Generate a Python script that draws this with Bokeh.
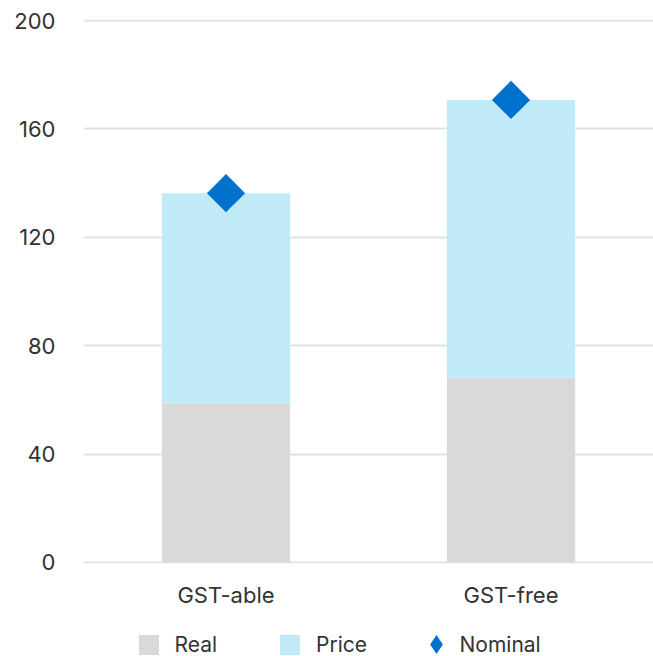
from bokeh.plotting import figure
from bokeh.layouts import column
from bokeh.models import ColumnDataSource, FactorRange, Range1d, Legend, LegendItem, FixedTicker
from bokeh.embed import file_html
from bokeh.resources import INLINE

categories = ["GST-able", "GST-free"]
real = [58.7, 68.3]
price = [77.6, 102.4]
nominal = [136.3, 170.7]
y_ticks = [0, 40, 80, 120, 160, 200]

FONT = "Inter"
TEXT = "#333333"
REAL_C = "#d9d9d9"
PRICE_C = "#c1eaf8"
NOM_C = "#0072ce"

src = ColumnDataSource(dict(cat=categories, real=real, price=price,
                            total=[r + p for r, p in zip(real, price)], nominal=nominal))

p = figure(x_range=FactorRange(*categories, range_padding=0), y_range=Range1d(-0.4, 200.4),
           width=653, height=610, output_backend="svg", toolbar_location=None,
           min_border_left=83, min_border_right=0, min_border_top=19, min_border_bottom=47)
p.outline_line_color = None

p.vbar(x="cat", bottom=0, top="real", width=0.45, source=src,
       fill_color=REAL_C, line_color=None)
p.vbar(x="cat", bottom="real", top="total", width=0.45, source=src,
       fill_color=PRICE_C, line_color=None)
p.scatter(x="cat", y="nominal", source=src, marker="square", angle=45,
          angle_units="deg", size=27, fill_color=NOM_C, line_color=None)

p.xgrid.grid_line_color = None
p.ygrid.grid_line_color = "#dde2ea"
p.ygrid.grid_line_width = 2
p.yaxis.ticker = FixedTicker(ticks=y_ticks)

for ax in (p.xaxis[0], p.yaxis[0]):
    ax.axis_line_color = None
    ax.major_tick_line_color = None
    ax.minor_tick_line_color = None
    ax.major_tick_out = 0
    ax.major_tick_in = 0
    ax.major_label_text_font = FONT
    ax.major_label_text_font_size = "22px"
    ax.major_label_text_color = TEXT
p.yaxis.major_label_standoff = 28
p.xaxis.major_label_standoff = 18

# legend strip: same series, drawn off-range so only the legend shows
lg = figure(x_range=FactorRange(*categories, range_padding=0), y_range=Range1d(1000, 1001),
            width=653, height=46, output_backend="svg", toolbar_location=None,
            x_axis_type=None, y_axis_type=None,
            min_border_left=83, min_border_right=0, min_border_top=0, min_border_bottom=0)
lg.outline_line_color = None
lg.grid.grid_line_color = None
e_real = lg.vbar(x="cat", bottom=0, top="real", width=0.45, source=src,
                 fill_color=REAL_C, line_color=None)
e_price = lg.vbar(x="cat", bottom="real", top="total", width=0.45, source=src,
                  fill_color=PRICE_C, line_color=None)
e_nom = lg.scatter(x="cat", y="nominal", source=src, marker="diamond",
                   fill_color=NOM_C, line_color=None)

leg1 = Legend(items=[LegendItem(label="Real", renderers=[e_real]),
                     LegendItem(label="Price", renderers=[e_price])],
              orientation="horizontal", location=(52.5, -0.5),
              glyph_width=25, glyph_height=25, label_standoff=14, spacing=60,
              padding=0, margin=0, background_fill_alpha=0, border_line_color=None,
              label_text_font=FONT, label_text_font_size="21px", label_text_color=TEXT)
leg2 = Legend(items=[LegendItem(label="Nominal", renderers=[e_nom])],
              orientation="horizontal", location=(328.5, -12),
              glyph_width=48, glyph_height=48, label_standoff=0,
              padding=0, margin=0, background_fill_alpha=0, border_line_color=None,
              label_text_font=FONT, label_text_font_size="21px", label_text_color=TEXT)
lg.add_layout(leg1, "center")
lg.add_layout(leg2, "center")

layout = column(p, lg, spacing=0)
open("out.html", "w").write(file_html(layout, INLINE))
